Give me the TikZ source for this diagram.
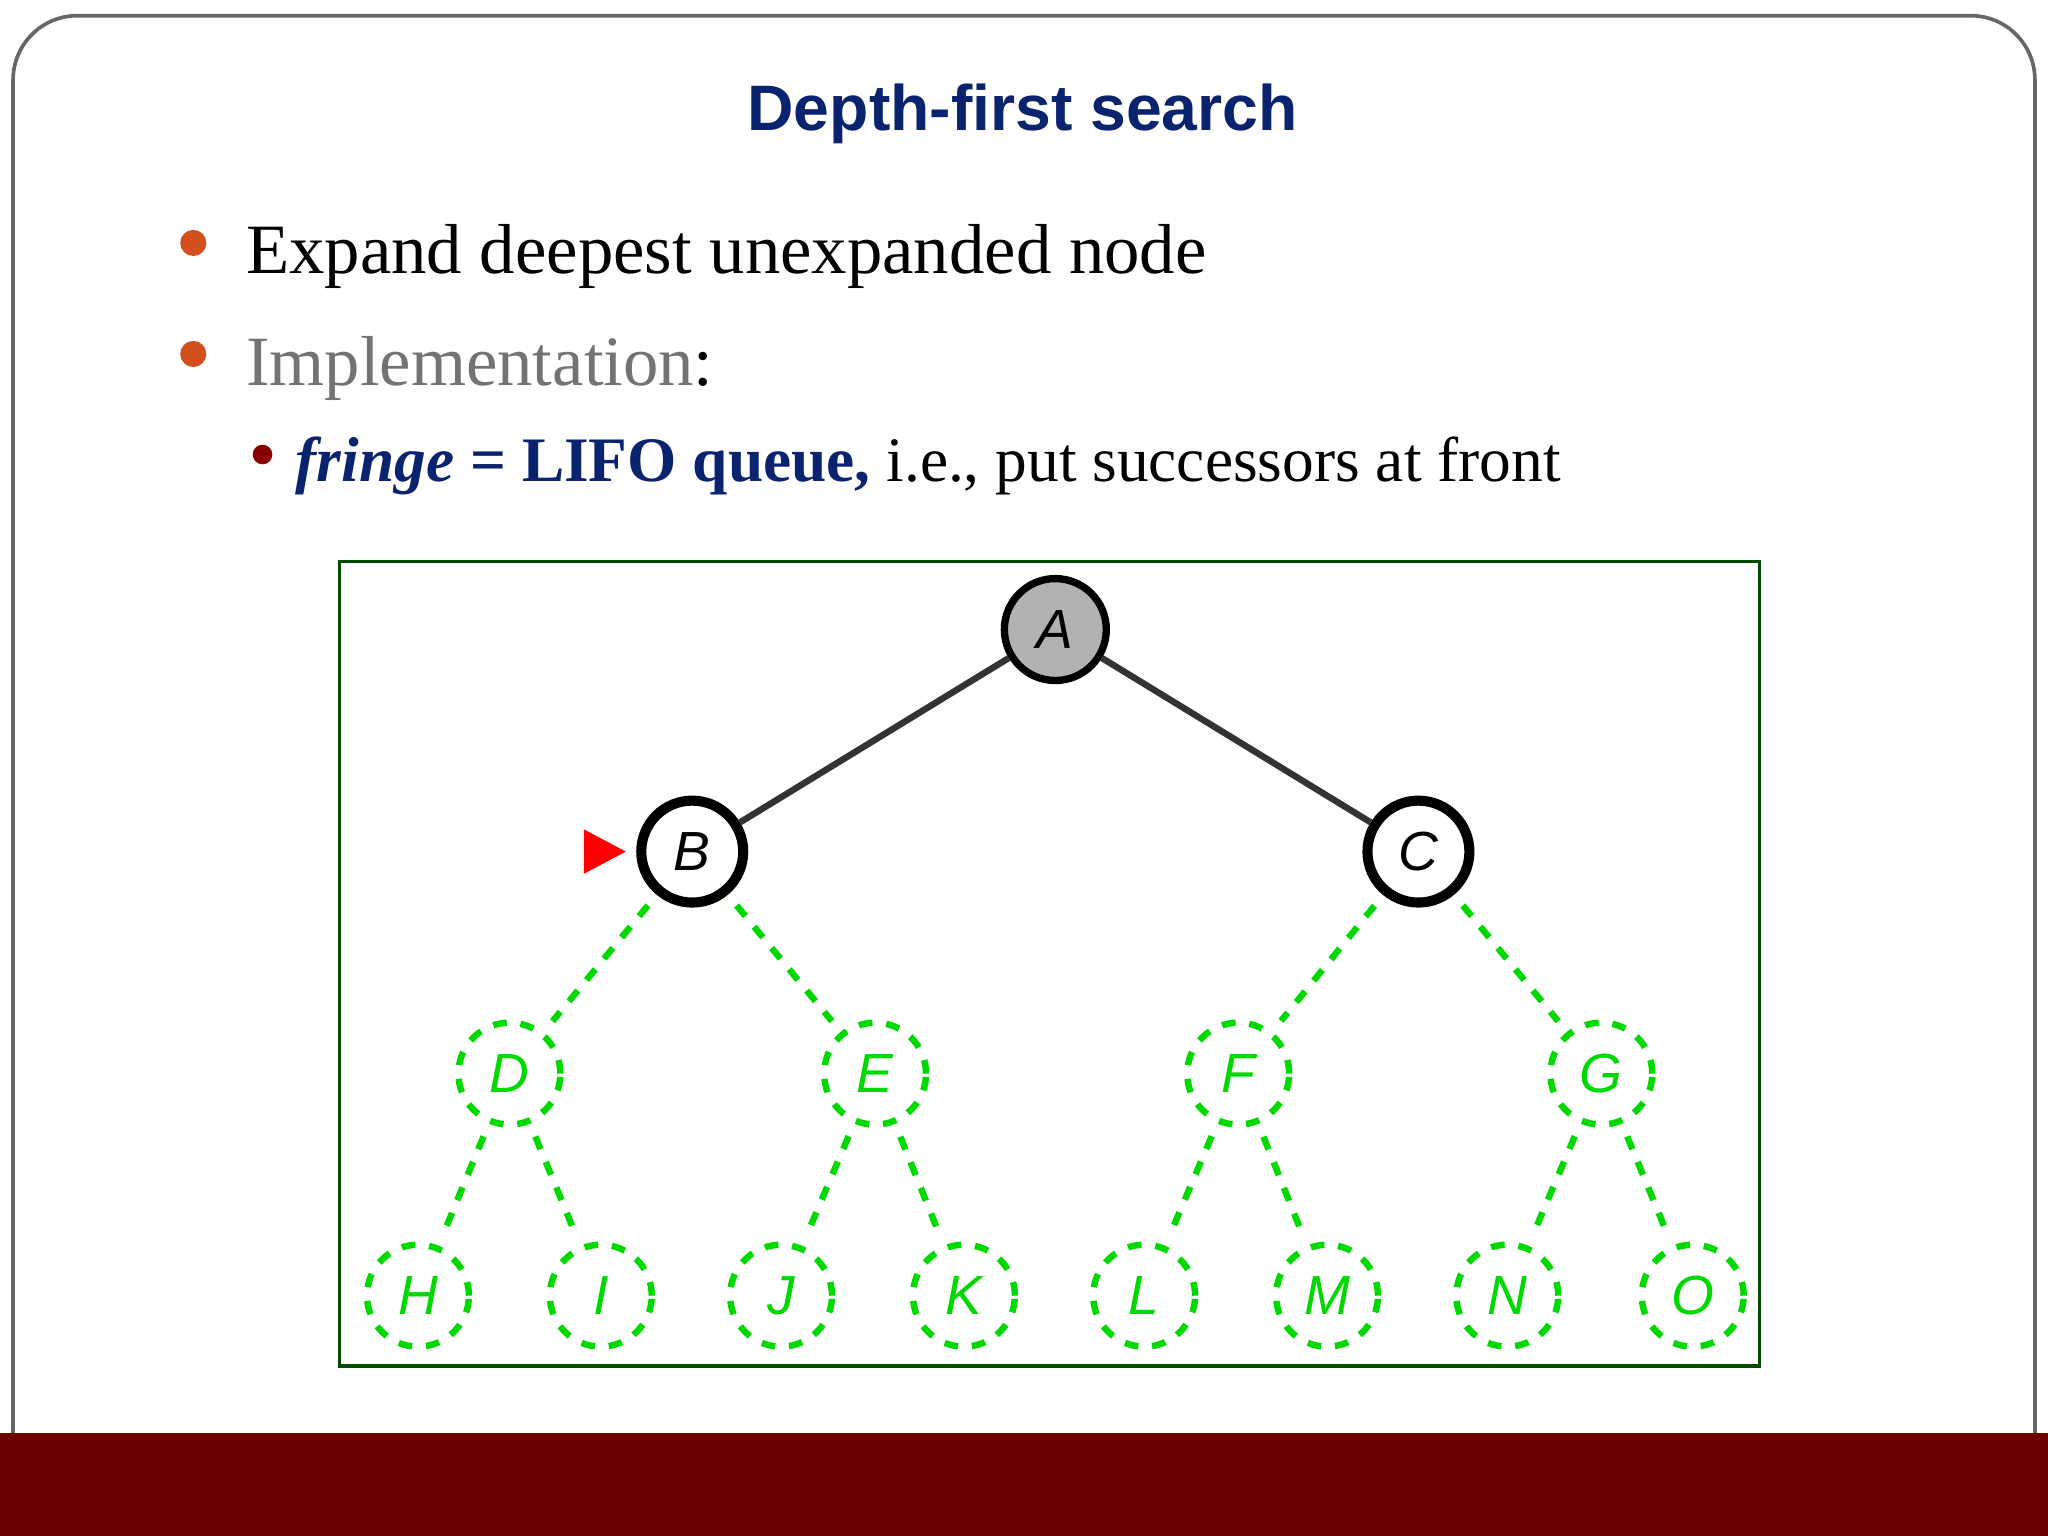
\documentclass[tikz,border=0pt]{standalone}
\usepackage{fontspec}
\usetikzlibrary{calc}
\setmainfont{Liberation Serif}
\setsansfont{Liberation Sans}
\begin{document}
\begin{tikzpicture}[x=0.01cm,y=-0.01cm,
  tn/.style={circle,minimum size=0.78cm,inner sep=0pt,line width=1.6pt,font=\sffamily\itshape\large},
  vis/.style={tn,draw=black},
  unv/.style={tn,draw=green!85!black,dashed,text=green!85!black,line width=1.4pt},
  ge/.style={draw=green!85!black,dashed,line width=1.4pt,shorten >=3pt,shorten <=3pt},
  be/.style={draw=black!80,line width=1.4pt}]
\definecolor{navy}{RGB}{10,35,110}
\definecolor{maroon}{RGB}{106,0,0}
\definecolor{bul}{RGB}{210,80,30}
\useasboundingbox (0,0) rectangle (1568,1176);
\fill[white] (0,0) rectangle (1568,1176);
\draw[black!60,line width=0.8pt,rounded corners=14pt] (10,1176) -- (10,12) -- (1558,12) -- (1558,1176);
\fill[maroon] (0,1097) rectangle (1568,1176);
\node[font=\sffamily\bfseries\fontsize{14}{16}\selectfont,text=navy] (title) at (783,87) {Depth-first search};
\node[circle,fill=bul,inner sep=0pt,minimum size=0.2cm] (b1) at (148,186) {};
\node[anchor=west,font=\fontsize{15.4}{18}\selectfont] (t1) at (176,196) {Expand deepest unexpanded node};
\node[circle,fill=bul,inner sep=0pt,minimum size=0.2cm] (b2) at (148,271) {};
\node[anchor=west,font=\fontsize{15.4}{18}\selectfont] (t2) at (176,282) {\textcolor{black!55}{Implementation}:};
\node[circle,fill=maroon!80!red,inner sep=0pt,minimum size=0.15cm] (b3) at (201,348) {};
\node[anchor=west,font=\fontsize{13.8}{16}\selectfont] (t3) at (214,357) {\textcolor{navy}{\textit{\textbf{fringe}} \textbf{= LIFO queue,}} i.e., put successors at front};
\draw[black!70!green,line width=0.8pt] (260,430) rectangle (1347,1046);
\node[vis,fill=black!30] (A) at (808,482) {A};
\node[vis,line width=2.2pt] (B) at (530,652) {B};
\node[vis,line width=2.2pt] (C) at (1086,652) {C};
\foreach \n/\x in {D/390,E/670,F/948,G/1226} \node[unv] (\n) at (\x,822) {\n};
\foreach \n/\x in {H/320,I/460,J/598,K/738,L/876,M/1016,N/1154,O/1296} \node[unv] (\n) at (\x,992) {\n};
\draw[be] (A) -- (B); \draw[be] (A) -- (C);
\foreach \p/\c in {B/D,B/E,C/F,C/G,D/H,D/I,E/J,E/K,F/L,F/M,G/N,G/O} \draw[ge] (\p) -- (\c);
\coordinate (tp) at ($(B.west)+(-8,0)$);
\fill[red] (tp) -- ++(-32,-17) -- ++(0,34) -- cycle;
\end{tikzpicture}
\end{document}
